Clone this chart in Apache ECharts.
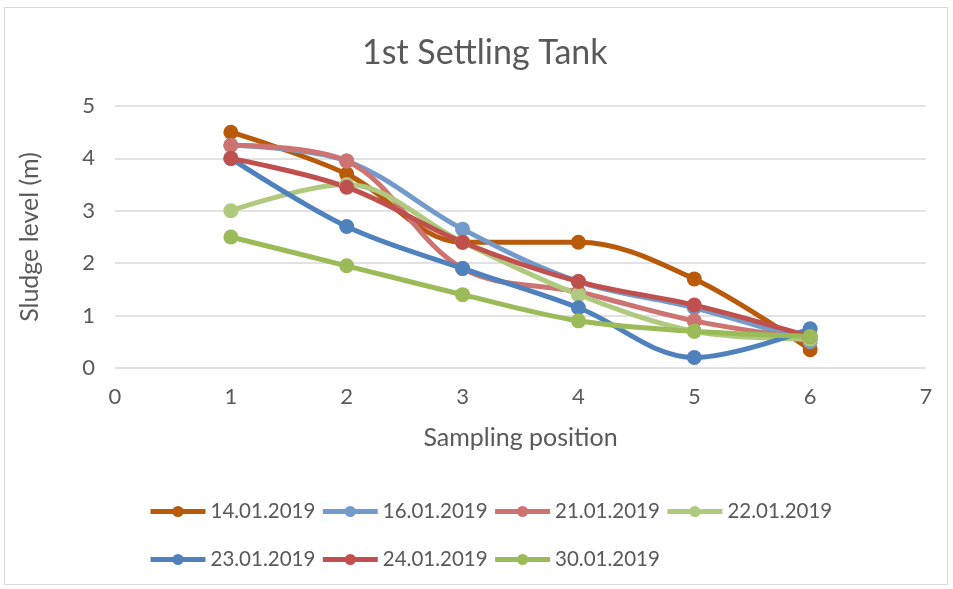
<!DOCTYPE html>
<html>
<head>
<meta charset="utf-8">
<title>1st Settling Tank</title>
<script src="https://cdn.jsdelivr.net/npm/echarts@6/dist/echarts.min.js"></script>
<style>
  html, body { margin: 0; padding: 0; background: #fff; }
  #chart { width: 953px; height: 589px; }
</style>
</head>
<body>
<div id="chart"></div>
<script>
// sampling positions along the tank
const positions = [1, 2, 3, 4, 5, 6]

// sludge level (m) per sampling date
const dates = ['14.01.2019', '16.01.2019', '21.01.2019', '22.01.2019', '23.01.2019', '24.01.2019', '30.01.2019']
const level_1401 = [4.5, 3.7, 2.4, 2.4, 1.7, 0.35]
const level_1601 = [4.25, 3.95, 2.65, 1.65, 1.15, 0.5]
const level_2101 = [4.25, 3.95, 1.9, 1.45, 0.9, 0.55]
const level_2201 = [3.0, 3.5, 2.4, 1.4, 0.7, 0.55]
const level_2301 = [4.0, 2.7, 1.9, 1.15, 0.2, 0.75]
const level_2401 = [4.0, 3.45, 2.4, 1.65, 1.2, 0.6]
const level_3001 = [2.5, 1.95, 1.4, 0.9, 0.7, 0.6]
const levels = [level_1401, level_1601, level_2101, level_2201, level_2301, level_2401, level_3001]

const colors = ['#B85A0A', '#729ACB', '#CD7371', '#AFCA7E', '#4F81BD', '#C0504D', '#9BBB59']

const font = 'Lato, "Open Sans", sans-serif'
const textColor = '#595959'

const chart = echarts.init(document.getElementById('chart'))

const series = dates.map((name, i) => ({
  name: name,
  type: 'line',
  smooth: 0.35,
  symbol: 'circle',
  symbolSize: 15,
  data: positions.map((p, j) => [p, levels[i][j]]),
  itemStyle: { color: colors[i] },
  lineStyle: { width: 5, color: colors[i] },
  emphasis: { disabled: true }
}))

// legend is split in two rows like the original
const legendBase = {
  left: 143,
  itemWidth: 55,
  itemHeight: 14,
  itemGap: 5,
  lineStyle: { width: 5 },
  textStyle: { fontFamily: font, fontSize: 20.5, color: textColor }
}

chart.setOption({
  animation: false,
  color: colors,
  title: {
    text: '1st Settling Tank',
    left: 357,
    top: 31,
    textStyle: { fontFamily: font, fontSize: 34, fontWeight: 'normal', color: textColor }
  },
  graphic: [{
    type: 'rect',
    shape: { x: 4.5, y: 7.5, width: 943, height: 577 },
    style: { fill: 'none', stroke: '#D9D9D9', lineWidth: 1 },
    silent: true
  }],
  grid: { left: 115, right: 27, top: 106, bottom: 221 },
  xAxis: {
    type: 'value',
    min: 0,
    max: 7,
    interval: 1,
    name: 'Sampling position',
    nameLocation: 'middle',
    nameGap: 57,
    nameTextStyle: { fontFamily: font, fontSize: 25, color: textColor },
    axisLine: { show: false },
    axisTick: { show: false },
    axisLabel: { fontFamily: font, fontSize: 22, color: textColor, margin: 18 },
    splitLine: { show: false }
  },
  yAxis: {
    type: 'value',
    min: 0,
    max: 5,
    interval: 1,
    name: 'Sludge level (m)',
    nameLocation: 'middle',
    nameGap: 73,
    nameTextStyle: { fontFamily: font, fontSize: 25, color: textColor },
    axisLine: { show: false },
    axisTick: { show: false },
    axisLabel: { fontFamily: font, fontSize: 22, color: textColor, margin: 20 },
    splitLine: { lineStyle: { color: '#D9D9D9', width: 1.5 } }
  },
  legend: [
    Object.assign({ top: 496, data: dates.slice(0, 4) }, legendBase),
    Object.assign({ top: 544, data: dates.slice(4) }, legendBase)
  ],
  series: series
})
</script>
</body>
</html>
